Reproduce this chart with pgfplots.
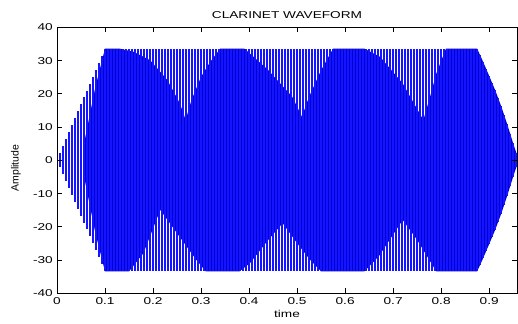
\documentclass[border=0pt]{standalone}
\usepackage{pgfplots}
\usepackage{pgfplotstable}
\pgfplotsset{compat=1.18}
\usepackage{fontspec}
\setmainfont{Liberation Sans}[FakeStretch=1.37]
\newfontfamily\plainsans{Liberation Sans}
\definecolor{wave}{RGB}{20,20,255}
\definecolor{wavefill}{RGB}{0,0,215}

% stripes: one vertical stroke per cycle, from the lower to the upper envelope
\pgfplotstableread{
x hi lo
0 0 0
0.00625 2.1 -2.1
0.0125 4.2 -4.2
0.01875 6.3 -6.3
0.025 8.4 -8.4
0.03125 10.5 -10.5
0.0375 12.6 -12.6
0.04375 14.7 -14.7
0.05 16.8 -16.8
0.05625 18.8 -18.8
0.0625 20.9 -20.9
0.06875 23.0 -23.0
0.075 25.1 -25.1
0.08125 27.2 -27.2
0.0875 29.3 -29.3
0.09375 31.4 -31.4
0.1 33.5 -33.5
0.10625 33.5 -33.5
0.1125 33.5 -33.5
0.11875 33.5 -33.5
0.125 33.5 -33.5
0.13125 33.5 -33.5
0.1375 33.5 -33.5
0.14375 33.5 -33.5
0.15 33.5 -33.5
0.15625 33.5 -33.5
0.1625 33.5 -33.5
0.16875 33.5 -33.5
0.175 33.5 -33.5
0.18125 33.5 -33.5
0.1875 33.5 -33.5
0.19375 33.5 -33.5
0.2 33.5 -33.5
0.20625 33.5 -33.5
0.2125 33.5 -33.5
0.21875 33.5 -33.5
0.225 33.5 -33.5
0.23125 33.5 -33.5
0.2375 33.5 -33.5
0.24375 33.5 -33.5
0.25 33.5 -33.5
0.25625 33.5 -33.5
0.2625 33.5 -33.5
0.26875 33.5 -33.5
0.275 33.5 -33.5
0.28125 33.5 -33.5
0.2875 33.5 -33.5
0.29375 33.5 -33.5
0.3 33.5 -33.5
0.30625 33.5 -33.5
0.3125 33.5 -33.5
0.31875 33.5 -33.5
0.325 33.5 -33.5
0.33125 33.5 -33.5
0.3375 33.5 -33.5
0.34375 33.5 -33.5
0.35 33.5 -33.5
0.35625 33.5 -33.5
0.3625 33.5 -33.5
0.36875 33.5 -33.5
0.375 33.5 -33.5
0.38125 33.5 -33.5
0.3875 33.5 -33.5
0.39375 33.5 -33.5
0.4 33.5 -33.5
0.40625 33.5 -33.5
0.4125 33.5 -33.5
0.41875 33.5 -33.5
0.425 33.5 -33.5
0.43125 33.5 -33.5
0.4375 33.5 -33.5
0.44375 33.5 -33.5
0.45 33.5 -33.5
0.45625 33.5 -33.5
0.4625 33.5 -33.5
0.46875 33.5 -33.5
0.475 33.5 -33.5
0.48125 33.5 -33.5
0.4875 33.5 -33.5
0.49375 33.5 -33.5
0.5 33.5 -33.5
0.50625 33.5 -33.5
0.5125 33.5 -33.5
0.51875 33.5 -33.5
0.525 33.5 -33.5
0.53125 33.5 -33.5
0.5375 33.5 -33.5
0.54375 33.5 -33.5
0.55 33.5 -33.5
0.55625 33.5 -33.5
0.5625 33.5 -33.5
0.56875 33.5 -33.5
0.575 33.5 -33.5
0.58125 33.5 -33.5
0.5875 33.5 -33.5
0.59375 33.5 -33.5
0.6 33.5 -33.5
0.60625 33.5 -33.5
0.6125 33.5 -33.5
0.61875 33.5 -33.5
0.625 33.5 -33.5
0.63125 33.5 -33.5
0.6375 33.5 -33.5
0.64375 33.5 -33.5
0.65 33.5 -33.5
0.65625 33.5 -33.5
0.6625 33.5 -33.5
0.66875 33.5 -33.5
0.675 33.5 -33.5
0.68125 33.5 -33.5
0.6875 33.5 -33.5
0.69375 33.5 -33.5
0.7 33.5 -33.5
0.70625 33.5 -33.5
0.7125 33.5 -33.5
0.71875 33.5 -33.5
0.725 33.5 -33.5
0.73125 33.5 -33.5
0.7375 33.5 -33.5
0.74375 33.5 -33.5
0.75 33.5 -33.5
0.75625 33.5 -33.5
0.7625 33.5 -33.5
0.76875 33.5 -33.5
0.775 33.5 -33.5
0.78125 33.5 -33.5
0.7875 33.5 -33.5
0.79375 33.5 -33.5
0.8 33.5 -33.5
0.80625 33.5 -33.5
0.8125 33.5 -33.5
0.81875 33.5 -33.5
0.825 33.5 -33.5
0.83125 33.5 -33.5
0.8375 33.5 -33.5
0.84375 33.5 -33.5
0.85 33.5 -33.5
0.85625 33.5 -33.5
0.8625 33.5 -33.5
0.86875 33.5 -33.5
0.875 33.5 -33.5
0.88125 31.5 -31.5
0.8875 29.5 -29.5
0.89375 27.4 -27.4
0.9 25.3 -25.3
0.90625 23.2 -23.2
0.9125 21.0 -21.0
0.91875 18.7 -18.7
0.925 16.2 -16.2
0.93125 13.6 -13.6
0.9375 10.8 -10.8
0.94375 7.9 -7.9
0.95 5.0 -5.0
0.95625 2.2 -2.2
}\stripes

% dense (solid) part of the waveform: upper boundary left to right, lower boundary back
\pgfplotstableread{
x y
0.055 4
0.08 22
0.1 33.5
0.13 33.5
0.16 32.5
0.194 30
0.23 24
0.256 17
0.268 12
0.28 18
0.30 25
0.319 29.5
0.34 33.5
0.39 33.5
0.402 32
0.44 27
0.49 19
0.51 13
0.525 19
0.55 27
0.575 33.5
0.64 33.5
0.673 31
0.72 23
0.763 12
0.775 18
0.79 26
0.81 33.5
0.875 33.5
0.8875 29.5
0.9 25.3
0.9125 21
0.925 16.2
0.9375 10.8
0.95 5
0.958 1.5
0.958 -1.5
0.95 -5
0.9375 -10.8
0.925 -16.2
0.9125 -21
0.9 -25.3
0.8875 -29.5
0.875 -33.5
0.79 -33.5
0.75 -24
0.72 -18
0.67 -29
0.64 -33.5
0.55 -33.5
0.527 -30
0.50 -25
0.47 -19
0.44 -24
0.402 -31
0.38 -33.5
0.31 -33.5
0.29 -30
0.25 -22
0.215 -15
0.18 -28
0.15 -33.5
0.1 -33.5
0.08 -22
0.055 -4
}\dense

\begin{document}
\begin{tikzpicture}[x=1bp,y=1bp]
\path[use as bounding box] (0,0) rectangle (518,323);
\begin{axis}[
  at={(57bp,30bp)}, anchor=south west,
  scale only axis, width=460bp, height=266bp,
  xmin=0, xmax=0.958, ymin=-40, ymax=40,
  xtick={0,0.1,0.2,0.3,0.4,0.5,0.6,0.7,0.8,0.9},
  xticklabels={0,0.1,0.2,0.3,0.4,0.5,0.6,0.7,0.8,0.9},
  ytick={-40,-30,-20,-10,0,10,20,30,40},
  yticklabels={-40,-30,-20,-10,0,10,20,30,40},
  tick align=inside, major tick length=5bp,
  tick style={black, line width=0.5bp},
  axis line style={black, line width=0.6bp},
  axis on top,
  ticklabel style={font=\fontsize{10}{12}\selectfont},
  xticklabel style={anchor=base, yshift=-11bp, inner sep=0pt},
  yticklabel style={anchor=east, inner sep=0pt, xshift=-4bp, yshift=-0.5bp},
  title={CLARINET WAVEFORM},
  title style={at={(axis description cs:0.5,1)}, anchor=base, yshift=3bp, inner sep=0pt, font=\fontsize{10}{12}\selectfont},
  xlabel={time},
  xlabel style={at={(axis description cs:0.5,0)}, anchor=base, yshift=-24bp, inner sep=0pt, font=\fontsize{10}{12}\selectfont},
  ylabel={Amplitude},
  ylabel style={at={(axis description cs:0,0.47)}, anchor=center, yshift=41bp, inner sep=0pt, font=\plainsans\fontsize{10.5}{12}\selectfont},
]
\addplot[fill=wavefill, draw=none, mark=none] table[x=x, y=y] {\dense};
\addplot[ycomb, draw=wave, line width=1.5bp, mark=none] table[x=x, y=hi] {\stripes};
\addplot[ycomb, draw=wave, line width=1.5bp, mark=none] table[x=x, y=lo] {\stripes};
\end{axis}
\end{tikzpicture}
\end{document}
